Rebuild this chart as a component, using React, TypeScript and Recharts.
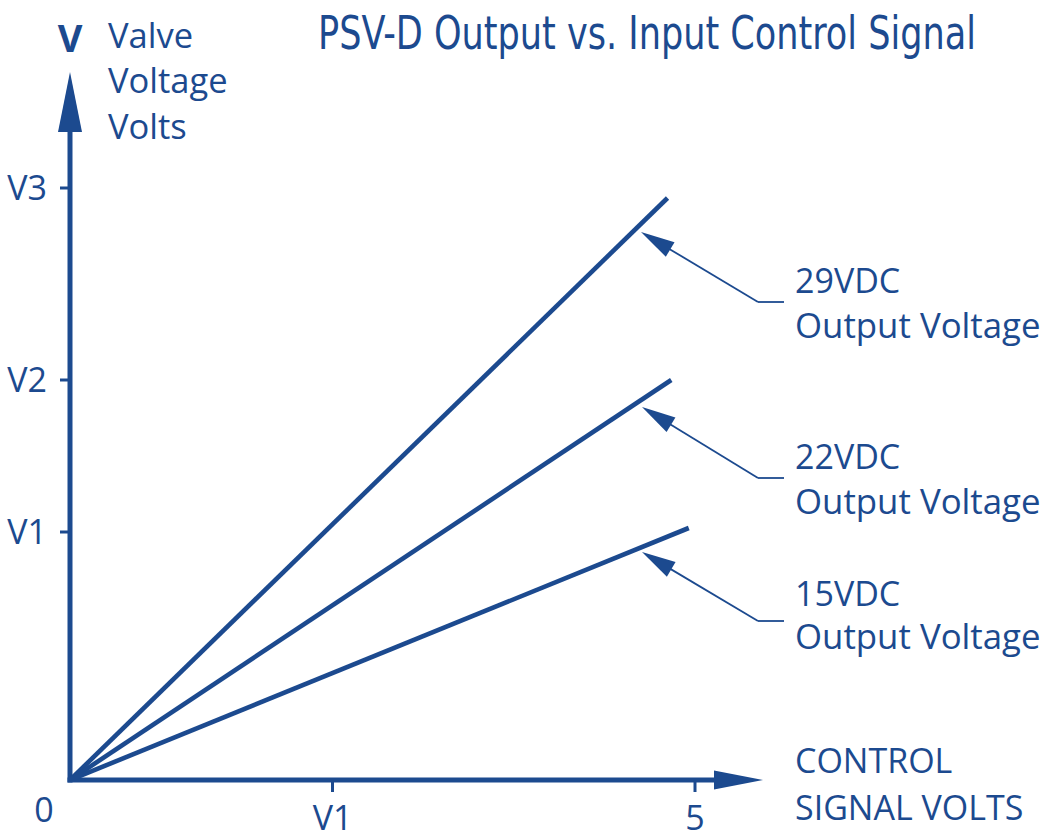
import React from 'react';
import { LineChart, Line, XAxis, YAxis, ReferenceLine } from 'recharts';

// ---- data ----
const seriesNames = ['29VDC', '22VDC', '15VDC'];
const seriesEndSignal = [4.78, 4.81, 4.95];
const seriesEndValve = [145.5, 100, 63];

const xTickValues = [2.1, 5];
const xTickLabels = ['V1', '5'];
const yTickValues = [62, 100, 148];
const yTickLabels = ['V1', 'V2', 'V3'];

// annotation arrows: tip, elbow, tail (data coords)
const annoTipX = [4.568, 4.576, 4.576];
const annoTipY = [137, 93.25, 57];
const annoElbowX = [5.504, 5.504, 5.504];
const annoElbowY = [119.5, 75.5, 39.75];
const annoTailX = [5.712, 5.712, 5.712];

const xAxisEnd = 5.544;
const yAxisEnd = 177;

const BLUE = '#1c4a8f';
const FONT = "'Open Sans', 'Noto Sans', sans-serif";

const seriesData = seriesNames.map((name, i) => ({
  name,
  data: [
    { x: 0, y: 0 },
    { x: seriesEndSignal[i], y: seriesEndValve[i] },
  ],
}));

const arrowShape = (len: number, half: number, width: number, cap: string) => (props: any) => {
  const { x1, y1, x2, y2 } = props;
  const dx = x2 - x1;
  const dy = y2 - y1;
  const L = Math.hypot(dx, dy) || 1;
  const ux = dx / L;
  const uy = dy / L;
  const bx = x2 - ux * len;
  const by = y2 - uy * len;
  const px = -uy;
  const py = ux;
  return (
    <g>
      <line x1={x1} y1={y1} x2={bx + ux * 2} y2={by + uy * 2} stroke={BLUE} strokeWidth={width} strokeLinecap={cap as any} />
      <polygon
        points={`${x2},${y2} ${bx + px * half},${by + py * half} ${bx - px * half},${by - py * half}`}
        fill={BLUE}
      />
    </g>
  );
};

const plainLine = (width: number) => (props: any) => {
  const { x1, y1, x2, y2 } = props;
  return <line x1={x1} y1={y1} x2={x2} y2={y2} stroke={BLUE} strokeWidth={width} />;
};

const labelStyle: React.CSSProperties = { fontFamily: FONT, fontSize: 34, fill: BLUE };
const outStyle: React.CSSProperties = { ...labelStyle, fontSize: 34.8 };

export default function App() {
  return (
    <div style={{ position: 'absolute', left: 0, top: 0, width: 1042, height: 837, background: '#fff' }}>
      <LineChart width={1042} height={837} margin={{ top: 20, right: 172, bottom: 0, left: 0 }}>
        <XAxis
          type="number"
          dataKey="x"
          domain={[0, 6.4]}
          ticks={xTickValues}
          tickFormatter={(v: number) => xTickLabels[xTickValues.indexOf(v)] ?? ''}
          axisLine={false}
          tickLine={{ stroke: BLUE, strokeWidth: 3 }}
          tickSize={12}
          tickMargin={14}
          height={57}
          tick={{ fill: BLUE, fontSize: 34, fontFamily: FONT }}
          allowDataOverflow
        />
        <YAxis
          type="number"
          dataKey="y"
          domain={[0, 190]}
          ticks={yTickValues}
          tickFormatter={(v: number) => yTickLabels[yTickValues.indexOf(v)] ?? ''}
          axisLine={false}
          tickLine={{ stroke: BLUE, strokeWidth: 3 }}
          tickSize={10}
          tickMargin={13}
          width={70}
          tick={{ fill: BLUE, fontSize: 34, fontFamily: FONT }}
          allowDataOverflow
        />

        {/* axes with arrowheads */}
        <ReferenceLine
          segment={[{ x: 0, y: 0 }, { x: xAxisEnd, y: 0 }]}
          ifOverflow="visible"
          shape={arrowShape(49, 9.5, 5, 'square')}
        />
        <ReferenceLine
          segment={[{ x: 0, y: 0 }, { x: 0, y: yAxisEnd }]}
          ifOverflow="visible"
          shape={arrowShape(60, 12, 5, 'square')}
        />

        {seriesData.map((s) => (
          <Line
            key={s.name}
            data={s.data}
            dataKey="y"
            type="linear"
            stroke={BLUE}
            strokeWidth={4.6}
            strokeLinecap="butt"
            dot={false}
            activeDot={false}
            isAnimationActive={false}
          />
        ))}

        {/* annotation callouts */}
        {seriesNames.map((n, i) => (
          <ReferenceLine
            key={'h' + n}
            segment={[{ x: annoTailX[i], y: annoElbowY[i] }, { x: annoElbowX[i], y: annoElbowY[i] }]}
            ifOverflow="visible"
            shape={plainLine(1.8)}
          />
        ))}
        {seriesNames.map((n, i) => (
          <ReferenceLine
            key={'d' + n}
            segment={[{ x: annoElbowX[i], y: annoElbowY[i] }, { x: annoTipX[i], y: annoTipY[i] }]}
            ifOverflow="visible"
            shape={arrowShape(34, 8.5, 1.8, 'butt')}
          />
        ))}

        {/* texts */}
        <text
          x={318}
          y={49}
          textLength={658}
          lengthAdjust="spacingAndGlyphs"
          style={{ fontFamily: "'Liberation Sans Narrow', 'DejaVu Sans Condensed', 'Liberation Sans', sans-serif", fontSize: 46, fill: BLUE }}
        >
          PSV-D Output vs. Input Control Signal
        </text>
        <text x={70} y={52} textAnchor="middle" style={{ fontFamily: FONT, fontSize: 38, fontWeight: 700, fill: BLUE }}>
          V
        </text>
        <text x={108} y={48} style={{ ...labelStyle, fontSize: 34.5 }}>Valve</text>
        <text x={108} y={93} style={{ ...labelStyle, fontSize: 34.5 }}>Voltage</text>
        <text x={108} y={139} style={{ ...labelStyle, fontSize: 34.5 }}>Volts</text>

        <text x={795} y={293} style={labelStyle}>29VDC</text>
        <text x={795} y={338} style={outStyle}>Output Voltage</text>
        <text x={795} y={469} style={labelStyle}>22VDC</text>
        <text x={795} y={514} style={outStyle}>Output Voltage</text>
        <text x={795} y={606} style={labelStyle}>15VDC</text>
        <text x={795} y={649} style={outStyle}>Output Voltage</text>

        <text x={795} y={773} style={labelStyle}>CONTROL</text>
        <text x={795} y={820} style={labelStyle}>SIGNAL VOLTS</text>
        <text x={44} y={822} textAnchor="middle" style={labelStyle}>0</text>
      </LineChart>
    </div>
  );
}
